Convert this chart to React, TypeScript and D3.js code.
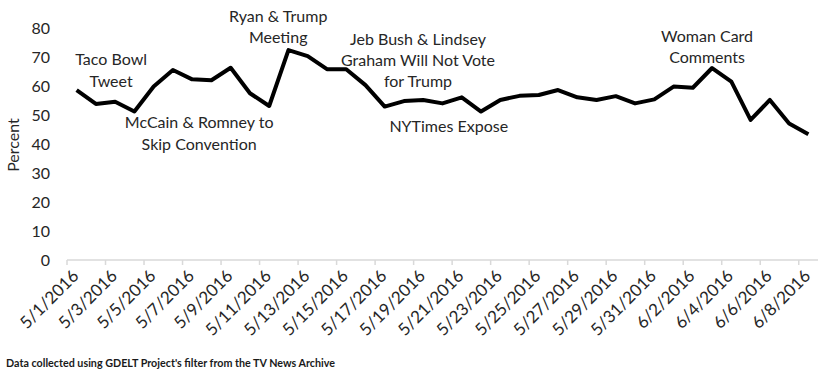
import React from "react";
import * as d3 from "d3";

const dates: string[] = [
  "5/1/2016","5/2/2016","5/3/2016","5/4/2016","5/5/2016","5/6/2016","5/7/2016","5/8/2016","5/9/2016","5/10/2016",
  "5/11/2016","5/12/2016","5/13/2016","5/14/2016","5/15/2016","5/16/2016","5/17/2016","5/18/2016","5/19/2016","5/20/2016",
  "5/21/2016","5/22/2016","5/23/2016","5/24/2016","5/25/2016","5/26/2016","5/27/2016","5/28/2016","5/29/2016","5/30/2016",
  "5/31/2016","6/1/2016","6/2/2016","6/3/2016","6/4/2016","6/5/2016","6/6/2016","6/7/2016","6/8/2016",
];
const percent: number[] = [
  58.6, 53.8, 54.6, 51.2, 59.8, 65.5, 62.3, 62.0, 66.3, 57.5,
  53.1, 72.4, 70.3, 65.8, 65.8, 60.3, 52.9, 54.8, 55.2, 54.0,
  56.1, 51.2, 55.2, 56.6, 56.9, 58.6, 56.1, 55.2, 56.5, 54.0,
  55.4, 59.8, 59.4, 66.2, 61.5, 48.3, 55.2, 47.1, 43.4,
];
const yTicks: number[] = [0, 10, 20, 30, 40, 50, 60, 70, 80];

type Note = { lines: string[]; date: string; baselines: number[]; dx: number };
const annotations: Note[] = [
  { lines: ["Taco Bowl", "Tweet"], date: "5/3/2016", baselines: [65, 87], dx: -4 },
  { lines: ["McCain & Romney to", "Skip Convention"], date: "5/7/2016", baselines: [128, 150], dx: 7 },
  { lines: ["Ryan & Trump", "Meeting"], date: "5/11/2016", baselines: [22, 43], dx: 9 },
  { lines: ["Jeb Bush & Lindsey", "Graham Will Not Vote", "for Trump"], date: "5/18/2016", baselines: [45, 66, 87], dx: 14 },
  { lines: ["NYTimes Expose"], date: "5/21/2016", baselines: [132], dx: -13 },
  { lines: ["Woman Card", "Comments"], date: "6/3/2016", baselines: [42, 63], dx: -5 },
];

const W = 820;
const H = 371;
const FONT = "Lato, 'Open Sans', sans-serif";

export default function App() {
  const x = d3.scaleBand<string>().domain(dates).range([67, 818]).padding(0);
  const y = d3.scaleLinear().domain([0, 80]).range([260, 28]);
  const cx = (d: string) => (x(d) as number) + x.bandwidth() / 2;

  const line = d3
    .line<number>()
    .x((_, i) => cx(dates[i]))
    .y((v) => y(v));

  const tickDates = dates.filter((_, i) => i % 2 === 0);

  return (
    <svg
      width={W}
      height={H}
      viewBox={`0 0 ${W} ${H}`}
      style={{ position: "absolute", left: 0, top: 0, background: "#fff" }}
      fontFamily={FONT}
    >
      <rect x={0} y={0} width={W} height={H} fill="#fff" />
      {/* x axis line */}
      <line x1={67} x2={818} y1={y(0)} y2={y(0)} stroke="#d9d9d9" strokeWidth={1.5} />
      {tickDates.map((d) => (
        <line
          key={"t" + d}
          x1={x(d) as number}
          x2={x(d) as number}
          y1={y(0)}
          y2={y(0) + 5}
          stroke="#d9d9d9"
          strokeWidth={1.5}
        />
      ))}
      {/* y tick labels */}
      {yTicks.map((t) => (
        <text key={"y" + t} x={50} y={y(t)} dy="0.36em" textAnchor="end" fontSize={16} fill="#262626">
          {t}
        </text>
      ))}
      <text
        transform={`translate(19,${(y(0) + y(80)) / 2 + 1}) rotate(-90)`}
        textAnchor="middle"
        fontSize={16}
        fill="#262626"
      >
        Percent
      </text>
      {/* x tick labels */}
      {tickDates.map((d) => (
        <text
          key={"xl" + d}
          transform={`translate(${cx(d) + 3},${277}) rotate(-45)`}
          textAnchor="end"
          fontSize={17}
          fill="#262626"
        >
          {d}
        </text>
      ))}
      {/* data line */}
      <path d={line(percent) || ""} fill="none" stroke="#000" strokeWidth={4} strokeLinejoin="round" />
      {/* annotations */}
      {annotations.map((a) => (
        <g key={a.lines[0]}>
          {a.lines.map((l, j) => (
            <text
              key={l}
              x={cx(a.date) + a.dx}
              y={a.baselines[j]}
              textAnchor="middle"
              fontSize={16}
              fill="#262626"
            >
              {l}
            </text>
          ))}
        </g>
      ))}
      <text x={6} y={367} fontSize={10.5} fontWeight={700} fill="#1a1a1a" textLength={329} lengthAdjust="spacingAndGlyphs">
        Data collected using GDELT Project's filter from the TV News Archive
      </text>
    </svg>
  );
}
